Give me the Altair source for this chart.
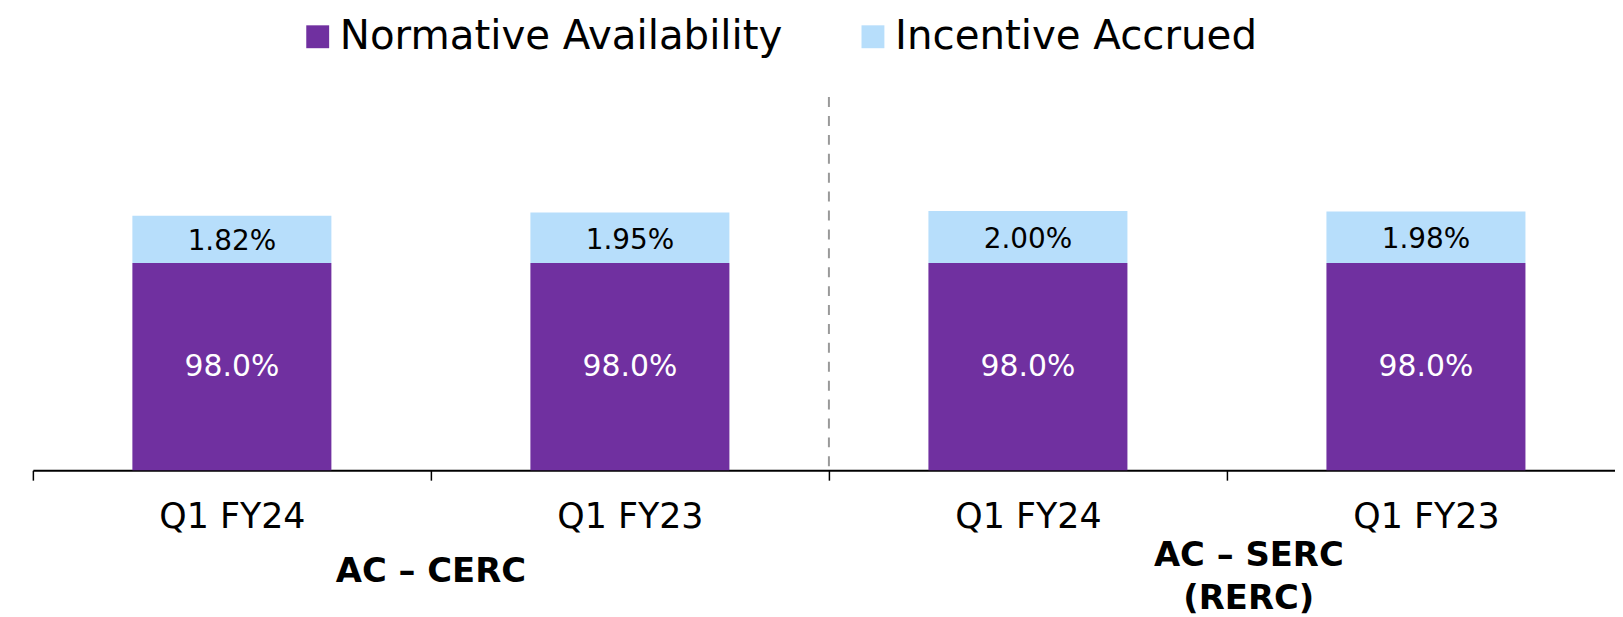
import altair as alt
import pandas as pd

# ---- data ----
groups = ["AC – CERC", "AC – CERC", "AC – SERC (RERC)", "AC – SERC (RERC)"]
quarters = ["Q1 FY24", "Q1 FY23", "Q1 FY24", "Q1 FY23"]
normative = [98.0, 98.0, 98.0, 98.0]
incentive = [1.82, 1.95, 2.00, 1.98]
series_names = ["Normative Availability", "Incentive Accrued"]
series_colors = ["#7030A0", "#B7DEFB"]
group1_label = "AC – CERC"
group2_label = ["AC – SERC", "(RERC)"]

Y_MIN = 90.0   # axis floor of the value scale
Y_MAX = 104.4

keys = [g + "|" + q for g, q in zip(groups, quarters)]

rows = []
for k, n, inc in zip(keys, normative, incentive):
    rows.append({"key": k, "series": series_names[0], "start": Y_MIN, "end": n,
                 "mid": (Y_MIN + n) / 2, "label": f"{n:.1f}%", "order": 0})
    rows.append({"key": k, "series": series_names[1], "start": n, "end": n + inc,
                 "mid": n + inc / 2, "label": f"{inc:.2f}%", "order": 1})
df = pd.DataFrame(rows)

FONT = "DejaVu Sans"
W, H = 1590, 375

xscale = alt.Scale(domain=keys, range=[0, 1600], paddingInner=0, paddingOuter=0)
yscale = alt.Scale(domain=[Y_MIN, Y_MAX], zero=False, nice=False)

xaxis = alt.Axis(
    title=None, labelExpr="split(datum.label, '|')[1]", labelAngle=0,
    labelFont=FONT, labelFontSize=35, labelColor="#000000", labelPadding=20,
    tickBand="extent", tickSize=10, tickColor="#000000", tickWidth=1.5,
    domainColor="#000000", domainWidth=2, grid=False,
)

bars = alt.Chart(df).mark_bar(width=alt.RelativeBandSize(0.5)).encode(
    x=alt.X("key:N", scale=xscale, axis=xaxis, sort=keys),
    y=alt.Y("start:Q", scale=yscale, axis=None),
    y2="end:Q",
    color=alt.Color(
        "series:N",
        scale=alt.Scale(domain=series_names, range=series_colors),
        legend=alt.Legend(
            title=None, orient="none", legendX=266, legendY=-81,
            direction="horizontal", symbolType="square", symbolSize=529,
            symbolStrokeWidth=0, labelFont=FONT, labelFontSize=40.5, labelLimit=0,
            labelColor="#000000", labelOffset=2, columnPadding=70, padding=0,
        ),
    ),
)

purple_labels = alt.Chart(df).transform_filter("datum.order == 0").mark_text(
    font=FONT, fontSize=30, baseline="middle", color="#FFFFFF"
).encode(
    x=alt.X("key:N", scale=xscale, sort=keys),
    y=alt.Y("mid:Q", scale=yscale),
    text="label:N",
)

blue_labels = alt.Chart(df).transform_filter("datum.order == 1").mark_text(
    font=FONT, fontSize=28, baseline="middle", color="#000000", dy=3
).encode(
    x=alt.X("key:N", scale=xscale, sort=keys),
    y=alt.Y("mid:Q", scale=yscale),
    text="label:N",
)

sep_df = pd.DataFrame({"key": [keys[2]]})
separator = alt.Chart(sep_df).mark_rule(color="#999999", strokeWidth=2, strokeDash=[10, 9]).encode(
    x=alt.X("key:N", scale=xscale, bandPosition=0),
    y=alt.value(0),
    y2=alt.value(H),
)

g1_df = pd.DataFrame({"key": [keys[1]], "text": [group1_label]})
group1_text = alt.Chart(g1_df).mark_text(
    font=FONT, fontSize=34, fontWeight="bold", color="#000000", baseline="middle",
).encode(
    x=alt.X("key:N", scale=xscale, bandPosition=0),
    y=alt.value(477),
    text="text:N",
)

g2_df = pd.DataFrame({"key": [keys[3]], "text": [group2_label]})
group2_text = alt.Chart(g2_df).mark_text(
    font=FONT, fontSize=34, fontWeight="bold", color="#000000", baseline="middle",
    lineHeight=43, dx=22,
).encode(
    x=alt.X("key:N", scale=xscale, bandPosition=0),
    y=alt.value(461),
    text="text",
)

chart = alt.layer(
    bars, purple_labels, blue_labels, separator, group1_text, group2_text
).properties(
    width=W, height=H,
    autosize=alt.AutoSizeParams(type="none"),
    padding={"left": 25, "top": 88, "right": 0, "bottom": 152},
    background="white",
).configure_view(strokeWidth=0)

chart.save("out.html", embed_options={"renderer": "svg", "actions": False})
